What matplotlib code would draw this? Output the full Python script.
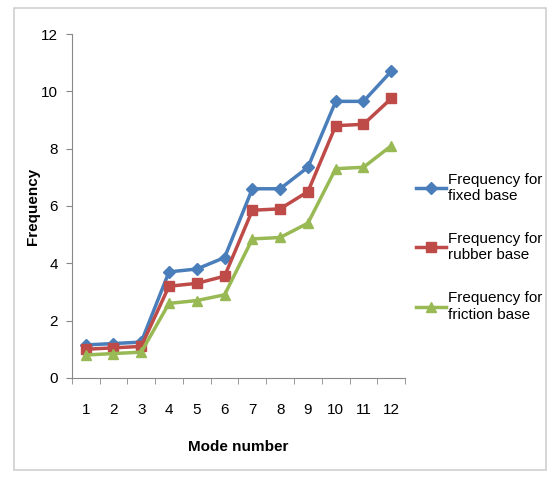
import numpy as np
import matplotlib.pyplot as plt
from matplotlib.patches import Rectangle

# Data
modes = list(range(1, 13))
fixed_base = [1.15, 1.2, 1.25, 3.7, 3.8, 4.2, 6.6, 6.6, 7.35, 9.65, 9.65, 10.7]
rubber_base = [1.0, 1.05, 1.1, 3.2, 3.3, 3.55, 5.85, 5.9, 6.5, 8.8, 8.85, 9.75]
friction_base = [0.8, 0.85, 0.9, 2.6, 2.7, 2.9, 4.85, 4.9, 5.4, 7.3, 7.35, 8.1]

labels = ['Frequency for\nfixed base', 'Frequency for\nrubber base', 'Frequency for\nfriction base']
colours = ['#4A7EBB', '#BE4B48', '#98B954']
markers = ['D', 's', '^']

plt.rcParams['font.family'] = ['Liberation Sans', 'DejaVu Sans']

fig = plt.figure(figsize=(5.52, 4.79), dpi=100)
fig.patches.append(Rectangle((0.025, 0.018), 0.965, 0.965, transform=fig.transFigure,
                             fill=False, edgecolor='#cfcfcf', linewidth=1.2))

ax = fig.add_axes([0.130, 0.211, 0.604, 0.718])

series = [fixed_base, rubber_base, friction_base]
sizes = [6, 7, 7]
for vals, lab, col, mk, ms in zip(series, labels, colours, markers, sizes):
    ax.plot(modes, vals, color=col, marker=mk, markersize=ms, linewidth=2.5, label=lab)

ax.set_xlim(0.5, 12.5)
ax.set_ylim(0, 12)
ax.set_yticks(range(0, 13, 2))
ax.set_xticks(modes)
ax.set_xticks(np.arange(0.5, 12.6, 1), minor=True)
ax.tick_params(axis='x', which='major', length=0, pad=18, labelsize=11)
ax.tick_params(axis='x', which='minor', length=4, direction='out', color='#888888')
ax.tick_params(axis='y', length=4, direction='out', color='#888888', labelsize=11, pad=6)

for s in ['top', 'right']:
    ax.spines[s].set_visible(False)
for s in ['left', 'bottom']:
    ax.spines[s].set_color('#888888')

ax.set_xlabel('Mode number', fontweight='bold', fontsize=11)
ax.set_ylabel('Frequency', fontweight='bold', fontsize=11)
ax.xaxis.set_label_coords(0.5, -0.18)
ax.yaxis.set_label_coords(-0.095, 0.5)

ax.legend(loc='center left', bbox_to_anchor=(0.99, 0.38), frameon=False,
          fontsize=11, handlelength=2.0, handletextpad=0.1, labelspacing=1.9)

fig.savefig('out.png', dpi=100)
